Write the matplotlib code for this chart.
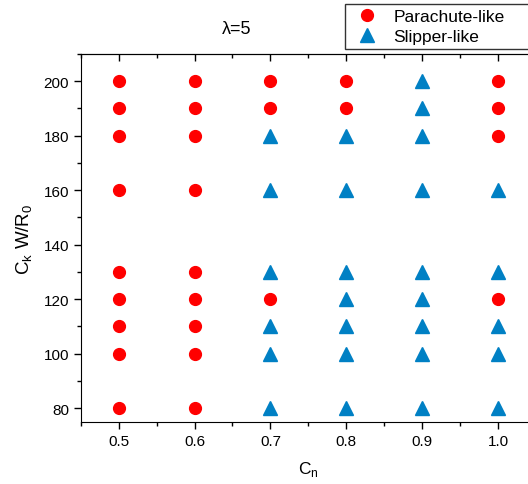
import matplotlib
matplotlib.use('Agg')
import matplotlib.pyplot as plt
from matplotlib.ticker import MultipleLocator, FormatStrFormatter

plt.rcParams['font.family'] = ['Liberation Sans', 'DejaVu Sans']

# Cn values and CkW/R0 values for each regime
para_cn = [0.5] * 9 + [0.6] * 9 + [0.7] * 3 + [0.8] * 2 + [1.0] * 4
para_ck = ([80, 100, 110, 120, 130, 160, 180, 190, 200] * 2
           + [120, 190, 200] + [190, 200] + [120, 180, 190, 200])

slip_cn = [0.7] * 6 + [0.8] * 7 + [0.9] * 9 + [1.0] * 5
slip_ck = ([80, 100, 110, 130, 160, 180]
           + [80, 100, 110, 120, 130, 160, 180]
           + [80, 100, 110, 120, 130, 160, 180, 190, 200]
           + [80, 100, 110, 130, 160])

red = '#ff0000'
blue = '#0080c4'

fig = plt.figure(figsize=(5.28, 4.85), dpi=100)
ax = fig.add_axes([0.153, 0.128, 0.862, 0.759])

ax.plot(para_cn, para_ck, 'o', color=red, markersize=8.5, linestyle='none', label='Parachute-like')
ax.plot(slip_cn, slip_ck, '^', color=blue, markersize=10, linestyle='none', label='Slipper-like')

ax.set_xlim(0.45, 1.05)
ax.set_ylim(75, 210)
ax.xaxis.set_major_locator(MultipleLocator(0.1))
ax.xaxis.set_minor_locator(MultipleLocator(0.05))
ax.yaxis.set_major_locator(MultipleLocator(20))
ax.yaxis.set_minor_locator(MultipleLocator(10))
ax.xaxis.set_major_formatter(FormatStrFormatter('%.1f'))

ax.tick_params(which='both', direction='out', labelsize=11, width=1, top=False)
ax.tick_params(which='major', length=5)
ax.tick_params(which='minor', length=3)
# inward ticks along the top edge
sec = ax.secondary_xaxis('top')
sec.xaxis.set_major_locator(MultipleLocator(0.1))
sec.xaxis.set_minor_locator(MultipleLocator(0.05))
sec.tick_params(which='both', direction='in', labeltop=False, width=1)
sec.tick_params(which='major', length=5)
sec.tick_params(which='minor', length=3)

ax.set_xlabel('C$_\\mathregular{n}$', fontsize=12.5, labelpad=8)
ax.set_ylabel('C$_\\mathregular{k}$ W/R$_\\mathregular{0}$', fontsize=13.5, labelpad=6)
ax.set_title('λ=5', fontsize=13, x=0.343, pad=15)

# legend box runs off the right edge, as in the original
leg = fig.legend(loc='upper left', bbox_to_anchor=(0.653, 0.99, 0.37, 0), mode='expand',
                 fontsize=12.5, frameon=True, fancybox=False, edgecolor='black',
                 borderpad=0.3, handletextpad=0.5, labelspacing=0.25, borderaxespad=0)
leg.get_frame().set_linewidth(1)

fig.savefig('out.png', dpi=100)
